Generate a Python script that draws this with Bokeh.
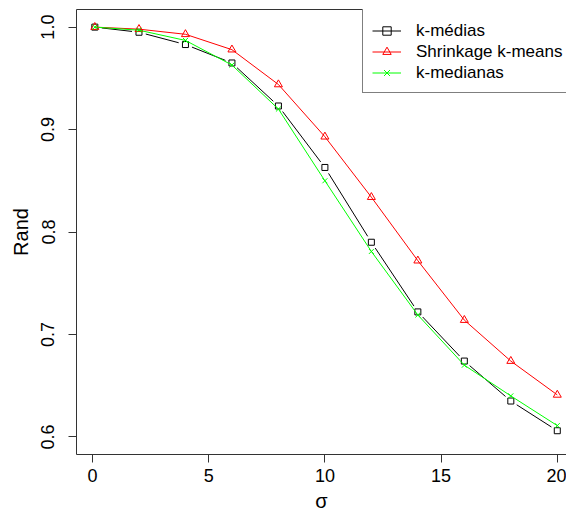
import numpy as np
from bokeh.plotting import figure
from bokeh.models import Range1d, LinearAxis, FixedTicker, Legend, LegendItem
from bokeh.embed import file_html
from bokeh.resources import INLINE

# ---- data ----
sigma = [0.1, 2, 4, 6, 8, 10, 12, 14, 16, 18, 20]
k_medias = [1.0, 0.995, 0.983, 0.965, 0.923, 0.863, 0.790, 0.722, 0.674, 0.635, 0.606]
shrinkage = [1.0, 0.998, 0.993, 0.978, 0.944, 0.893, 0.834, 0.772, 0.714, 0.674, 0.641]
k_medianas = [1.0, 0.997, 0.987, 0.963, 0.920, 0.850, 0.781, 0.719, 0.670, 0.640, 0.611]
x_ticks = [0, 5, 10, 15, 20]
y_ticks = [0.6, 0.7, 0.8, 0.9, 1.0]
y_tick_labels = ["0.6", "0.7", "0.8", "0.9", "1.0"]
series_names = ["k-médias", "Shrinkage k-means", "k-medianas"]
x_title = "σ"
y_title = "Rand"

# ---- layout ----
W, H = 566, 514
ML, MT, MB, MR = 76, 9, 58, 0
X0, X1 = -0.688, 20.396
Y0, Y1 = 0.5828, 1.0172
FONT = "Liberation Sans"

p = figure(width=W, height=H, output_backend="svg", toolbar_location=None,
           x_range=Range1d(X0, X1), y_range=Range1d(Y0, Y1),
           min_border_left=ML, min_border_top=MT, min_border_bottom=MB,
           min_border_right=MR, x_axis_location=None, y_axis_location=None)
p.grid.visible = False
p.outline_line_color = None
p.background_fill_color = "white"
p.border_fill_color = "white"

frame_w = W - ML - MR
frame_h = H - MT - MB
sx = frame_w / (X1 - X0)
sy = frame_h / (Y1 - Y0)

def style_axis(ax):
    ax.axis_line_color = "#333333"
    ax.axis_line_width = 1
    ax.major_tick_line_color = "#333333"
    ax.minor_tick_line_color = None
    ax.major_tick_out = 8
    ax.major_tick_in = 0
    ax.major_label_text_font = FONT
    ax.major_label_text_font_size = "18px"
    ax.major_label_text_color = "black"
    ax.axis_label_text_font = FONT
    ax.axis_label_text_font_size = "20px"
    ax.axis_label_text_font_style = "normal"
    ax.axis_label_text_color = "black"

xa = LinearAxis(ticker=FixedTicker(ticks=x_ticks), axis_label=x_title)
style_axis(xa)
xa.major_label_standoff = 6
xa.axis_label_standoff = 5
p.add_layout(xa, "below")

ya = LinearAxis(ticker=FixedTicker(ticks=y_ticks), axis_label=y_title)
style_axis(ya)
ya.major_label_overrides = {t: l for t, l in zip(y_ticks, y_tick_labels)}
ya.major_label_orientation = "vertical"
ya.major_label_standoff = 14
ya.axis_label_standoff = 7
p.add_layout(ya, "left")

top = LinearAxis(ticker=FixedTicker(ticks=[]))
top.axis_line_color = "#333333"
top.major_tick_line_color = None
top.minor_tick_line_color = None
top.major_label_text_font_size = "0px"
p.add_layout(top, "above")

# black line with gaps around points (R type="b")
gap = 7.0
xs_seg, ys_seg = [], []
for i in range(len(sigma) - 1):
    xa_, ya_ = sigma[i], k_medias[i]
    xb_, yb_ = sigma[i + 1], k_medias[i + 1]
    dx = (xb_ - xa_) * sx
    dy = (yb_ - ya_) * sy
    L = np.hypot(dx, dy)
    if L <= 2 * gap:
        continue
    ux, uy = dx / L, dy / L
    xs_seg.append([xa_ + ux * gap / sx, xb_ - ux * gap / sx])
    ys_seg.append([ya_ + uy * gap / sy, yb_ - uy * gap / sy])

r_bl = p.multi_line(xs_seg, ys_seg, line_color="black", line_width=1)
r_bm = p.scatter(sigma, k_medias, marker="square", size=6, fill_color=None,
                 line_color="black", line_width=1)
r_rl = p.line(sigma, shrinkage, line_color="#FF0000", line_width=1)
r_rm = p.scatter(sigma, shrinkage, marker="triangle", size=8, fill_color=None,
                 line_color="#FF0000", line_width=1)
r_gl = p.line(sigma, k_medianas, line_color="#00FF00", line_width=1)
r_gm = p.scatter(sigma, k_medianas, marker="x", size=7, line_color="#00FF00",
                 line_width=1)

legend = Legend(items=[
    LegendItem(label=series_names[0], renderers=[r_bl, r_bm]),
    LegendItem(label=series_names[1], renderers=[r_rl, r_rm]),
    LegendItem(label=series_names[2], renderers=[r_gl, r_gm]),
], location=(286, 361))
legend.title = " "
legend.title_text_font_size = "4px"
legend.title_standoff = 0
legend.padding = 9
legend.spacing = 0
legend.margin = 0
legend.glyph_width = 29
legend.glyph_height = 21
legend.label_height = 21
legend.label_standoff = 15
legend.label_text_font = FONT
legend.label_text_font_size = "17px"
legend.label_text_color = "black"
legend.border_line_color = "black"
legend.border_line_width = 1
legend.background_fill_color = "white"
legend.background_fill_alpha = 1.0
p.add_layout(legend)

open("out.html", "w").write(file_html(p, INLINE))
